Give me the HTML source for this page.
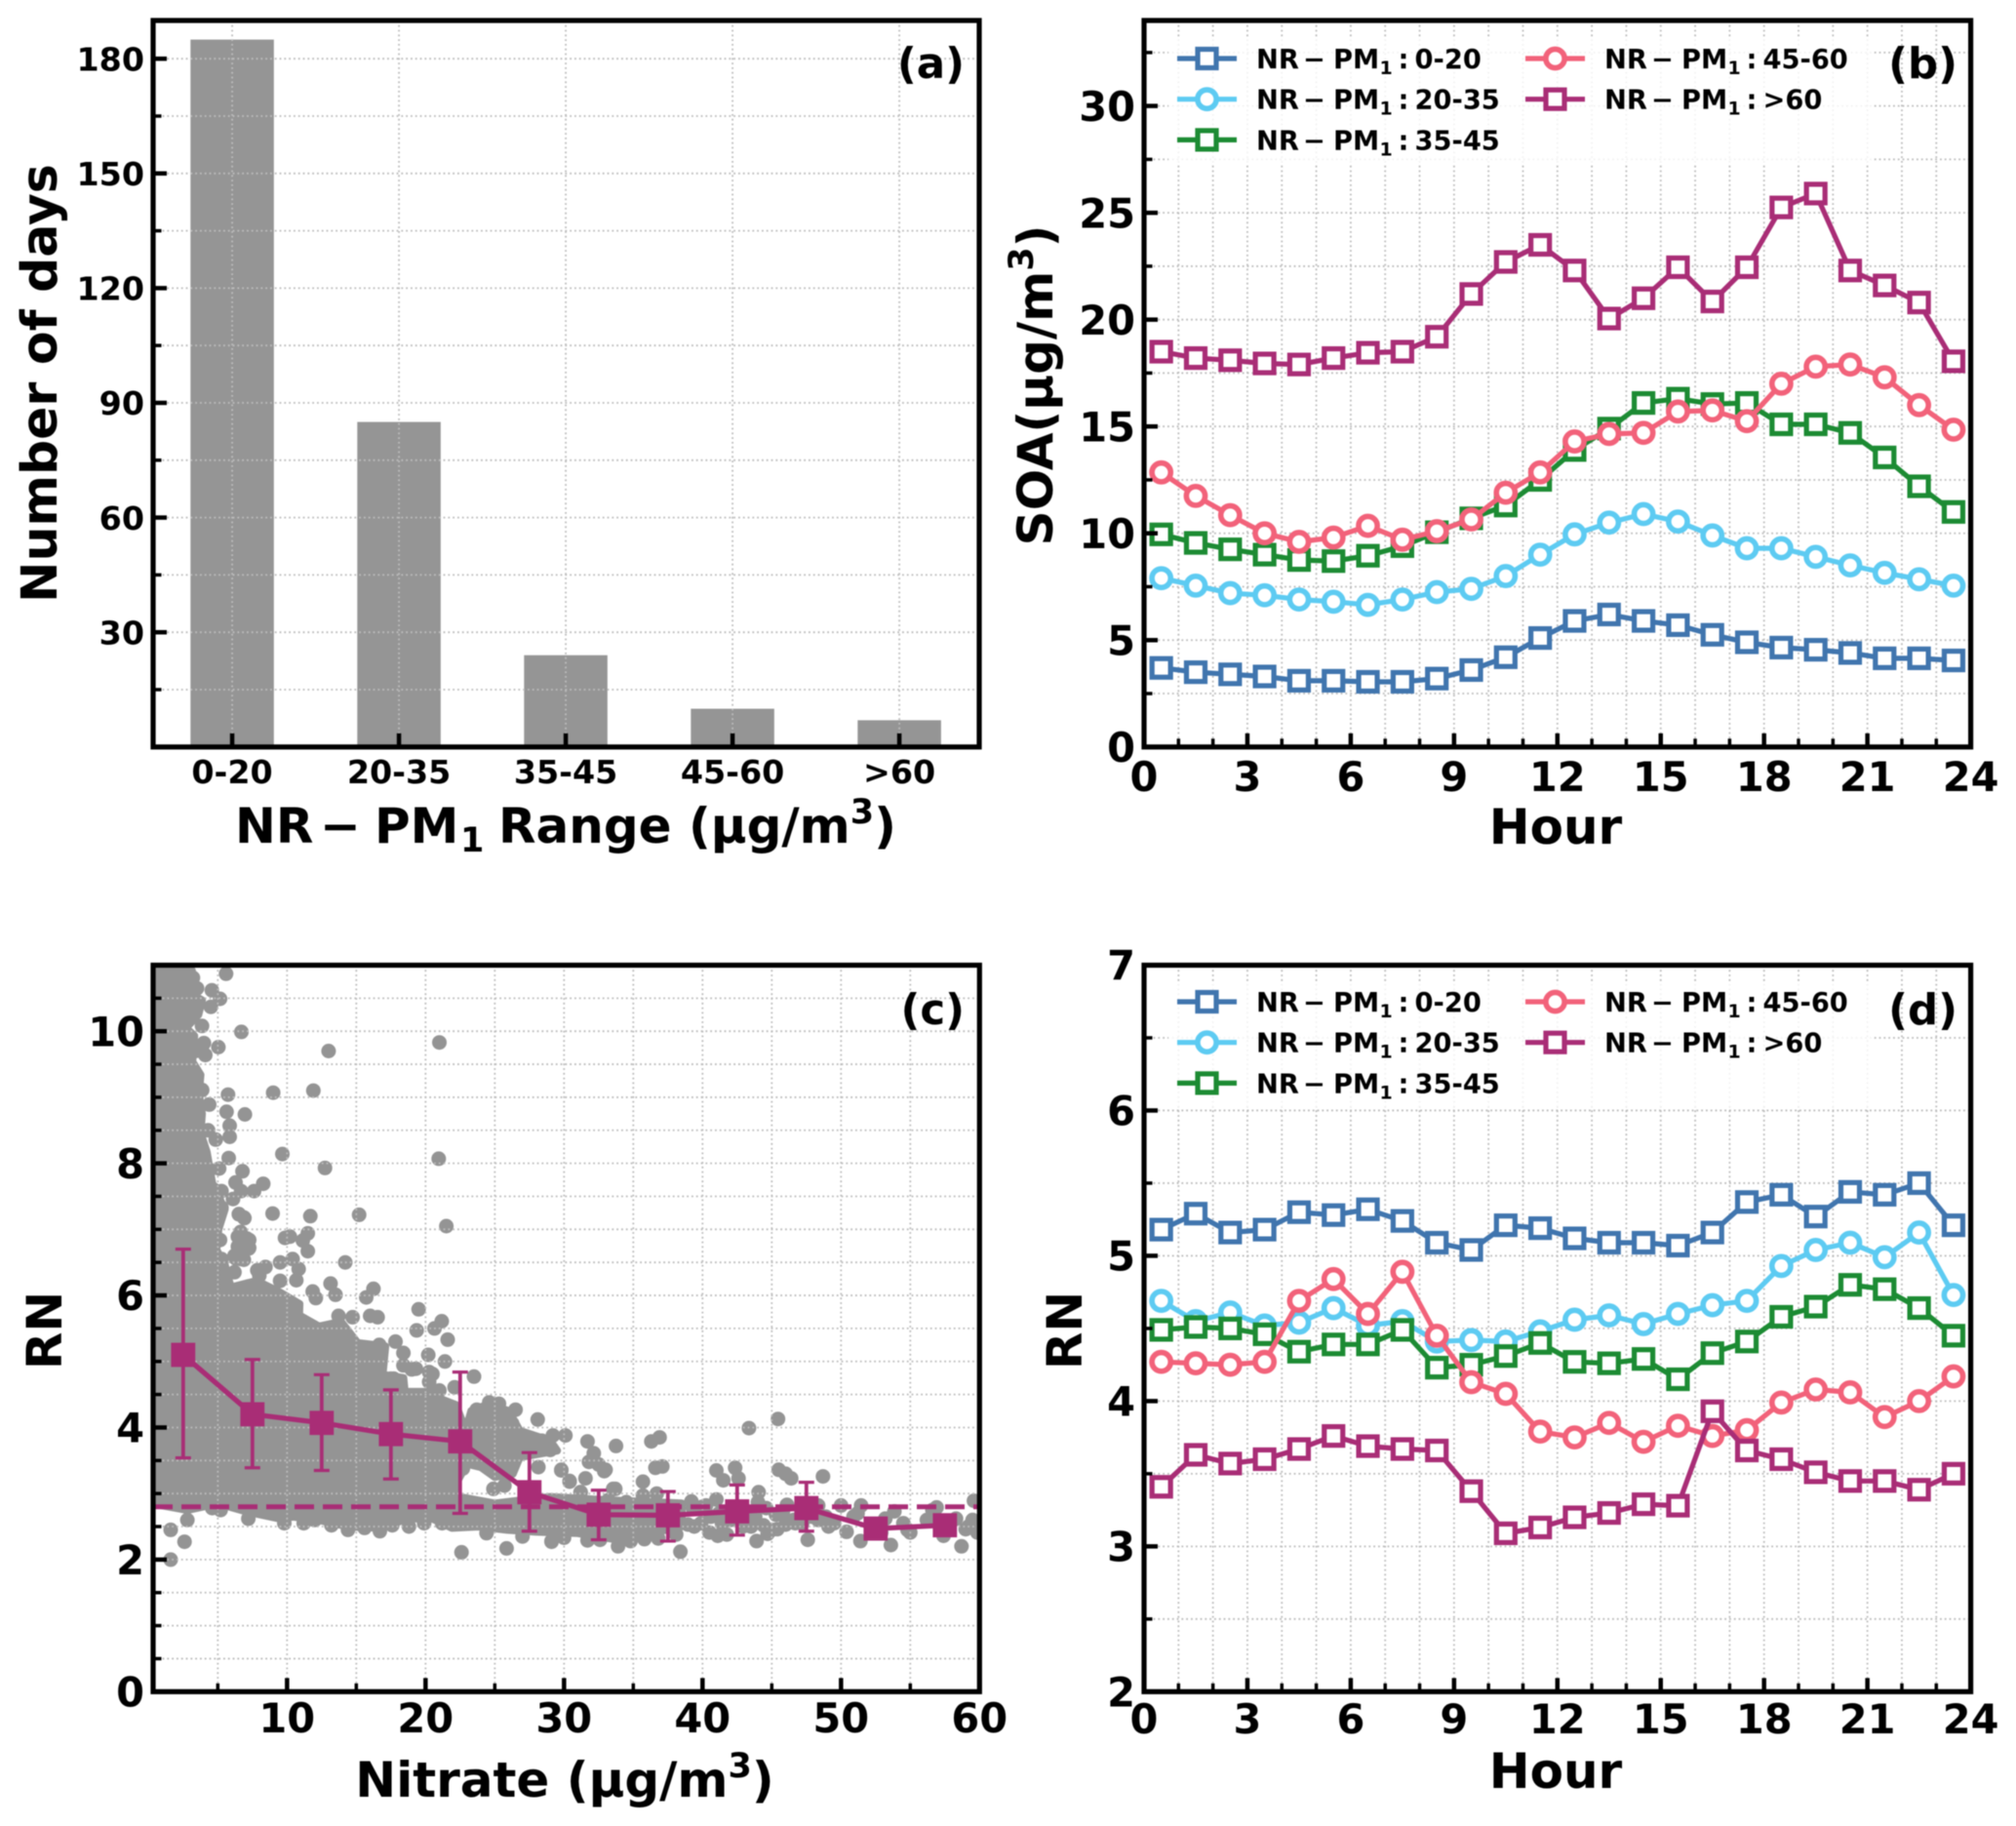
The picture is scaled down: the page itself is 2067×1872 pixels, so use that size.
<!DOCTYPE html>
<html>
<head>
<meta charset="utf-8">
<title>NR-PM1 SOA and RN panels</title>
<style>
html,body{margin:0;padding:0;background:#fff;}
svg{display:block;filter:blur(0.45px);}
text{font-family:"DejaVu Sans","Liberation Sans",sans-serif;font-weight:bold;fill:#000;}
</style>
</head>
<body>
<svg id="figure" xmlns="http://www.w3.org/2000/svg" width="2067" height="1872" viewBox="0 0 2067 1872">
<defs>
<clipPath id="clip-c"><rect x="157" y="989.5" width="847" height="744.8"/></clipPath>
</defs>
<rect x="0" y="0" width="2067" height="1872" fill="#fff"/>
<g id="base-layer"></g>
<g id="grid-layer"></g>
<g id="mark-layer"></g>
<g id="frame-layer"></g>

<text font-size="50.5" text-anchor="middle" transform="translate(58,393) rotate(-90)">Number of days</text>
<text font-size="50" y="864"><tspan x="241">NR</tspan><tspan x="328">−</tspan><tspan x="384">PM</tspan><tspan x="472" dy="9" font-size="35">1</tspan><tspan x="511" dy="-9">Range (µg/m</tspan><tspan dy="-20" font-size="35">3</tspan><tspan dy="20">)</tspan></text>
<text font-size="50" text-anchor="middle" transform="translate(1079,395) rotate(-90)">SOA(µg/m<tspan dy="-20" font-size="35">3</tspan><tspan dy="20">)</tspan></text>
<text font-size="50" text-anchor="middle" x="1595" y="865">Hour</text>
<text font-size="50" text-anchor="middle" transform="translate(63,1364) rotate(-90)">RN</text>
<text font-size="50" text-anchor="middle" x="579" y="1842">Nitrate (µg/m<tspan dy="-20" font-size="35">3</tspan><tspan dy="20">)</tspan></text>
<text font-size="50" text-anchor="middle" transform="translate(1109,1364) rotate(-90)">RN</text>
<text font-size="50" text-anchor="middle" x="1595" y="1833">Hour</text>
<text font-size="43.5" text-anchor="end" x="989" y="80">(a)</text>
<text font-size="43.5" text-anchor="end" x="2007" y="80">(b)</text>
<text font-size="43.5" text-anchor="end" x="989" y="1050">(c)</text>
<text font-size="43.5" text-anchor="end" x="2007" y="1050">(d)</text>
</svg>
<script>
// ---------- Panel (a) data ----------
const rangeCategories = ["0-20", "20-35", "35-45", "45-60", ">60"];
const dayCounts = [185, 85, 24, 10, 7];
const daysMajorTicks = [30, 60, 90, 120, 150, 180];
const daysMinorTicks = [15, 45, 75, 105, 135, 165];

// ---------- Panels (b), (d) shared ----------
const hours = [0.5,1.5,2.5,3.5,4.5,5.5,6.5,7.5,8.5,9.5,10.5,11.5,12.5,13.5,14.5,15.5,16.5,17.5,18.5,19.5,20.5,21.5,22.5,23.5];
const hourMajorTicks = [0,3,6,9,12,15,18,21,24];
const hourMinorTicks = [1,2,4,5,7,8,10,11,13,14,16,17,19,20,22,23];
const seriesNames = ["0-20", "20-35", "35-45", "45-60", ">60"];
const seriesKeys = ["0-20", "20-35", "35-45", "45-60", "gt60"];
const seriesColors = ["#4075AE", "#5DCBF2", "#1C8B33", "#F2627A", "#A92D76"];
const seriesMarkers = ["square", "circle", "square", "circle", "square"];

// ---------- Panel (b) data ----------
const soa0to20 = [3.7,3.5,3.4,3.3,3.1,3.1,3.05,3.05,3.2,3.6,4.2,5.1,5.9,6.2,5.9,5.7,5.25,4.9,4.65,4.55,4.4,4.15,4.15,4.05];
const soa20to35 = [7.9,7.55,7.2,7.1,6.9,6.8,6.65,6.9,7.25,7.4,8.0,9.0,9.95,10.5,10.9,10.55,9.9,9.3,9.3,8.9,8.5,8.15,7.85,7.55];
const soa35to45 = [9.95,9.55,9.25,9.0,8.75,8.7,8.95,9.4,10.05,10.7,11.3,12.5,13.9,14.9,16.1,16.3,16.05,16.1,15.1,15.1,14.7,13.55,12.2,11.0];
const soa45to60 = [12.85,11.75,10.85,10.0,9.6,9.8,10.35,9.7,10.1,10.65,11.9,12.85,14.3,14.65,14.7,15.7,15.75,15.25,17.0,17.8,17.9,17.3,16.0,14.85];
const soaOver60 = [18.5,18.2,18.1,17.95,17.9,18.2,18.45,18.5,19.2,21.2,22.7,23.5,22.3,20.05,21.0,22.45,20.85,22.45,25.25,25.9,22.3,21.6,20.8,18.05];
const soaMajorTicks = [0,5,10,15,20,25,30];
const soaMinorTicks = [2.5,7.5,12.5,17.5,22.5,27.5,32.5];

// ---------- Panel (d) data ----------
const rn0to20 = [5.18,5.29,5.16,5.18,5.30,5.28,5.32,5.24,5.09,5.04,5.21,5.19,5.12,5.09,5.09,5.07,5.16,5.37,5.42,5.27,5.44,5.42,5.50,5.21];
const rn20to35 = [4.69,4.55,4.61,4.52,4.54,4.64,4.52,4.55,4.41,4.42,4.41,4.48,4.56,4.59,4.53,4.60,4.66,4.69,4.93,5.04,5.09,4.99,5.16,4.73];
const rn35to45 = [4.49,4.51,4.50,4.46,4.34,4.39,4.39,4.49,4.23,4.25,4.31,4.40,4.27,4.26,4.29,4.15,4.33,4.41,4.58,4.65,4.80,4.77,4.64,4.45];
const rn45to60 = [4.27,4.26,4.25,4.27,4.69,4.84,4.60,4.89,4.45,4.13,4.05,3.79,3.75,3.85,3.72,3.83,3.76,3.80,3.99,4.08,4.06,3.89,4.00,4.17];
const rnOver60 = [3.41,3.63,3.57,3.60,3.67,3.76,3.69,3.67,3.66,3.38,3.09,3.13,3.20,3.23,3.29,3.28,3.93,3.66,3.60,3.51,3.45,3.45,3.39,3.50];
const rnMajorTicks = [2,3,4,5,6,7];
const rnMinorTicks = [2.5,3.5,4.5,5.5,6.5];

// ---------- Panel (c) data ----------
const nitrateBins = [2.5,7.5,12.5,17.5,22.5,27.5,32.5,37.5,42.5,47.5,52.5,57.5];
const binMeanRN = [5.1,4.2,4.07,3.9,3.79,3.02,2.68,2.67,2.73,2.78,2.47,2.52];
const binUpperRN = [6.7,5.03,4.8,4.57,4.84,3.62,3.05,3.03,3.13,3.17,2.47,2.52];
const binLowerRN = [3.54,3.39,3.35,3.22,2.7,2.43,2.3,2.28,2.37,2.43,2.47,2.52];
const referenceRN = 2.8;
const nitrateMajorTicks = [10,20,30,40,50,60];
const nitrateMinorTicks = [5,15,25,35,45,55];
const scatterRNMajorTicks = [0,2,4,6,8,10];
const scatterRNMinorTicks = [0.5,1,1.5,2.5,3,3.5,4.5,5,5.5,6.5,7,7.5,8.5,9,9.5,10.5];
// Outline of the saturated part of the cloud, where single points cannot be told apart.
const cloudEdgeNitrate = [0.2,2.3,2.8,3.86,3.6,2.7,3.3,3.16,3.75,3.63,3.86,3.75,4.2,4.6,5.5,5.05,4.9,5.5,5.94,7.8,9.46,10.9,10.87,12.3,13.9,15.1,17.1,16.9,18.4,18.5,20.5,21,22.2,22.9,23.3,24.5,26,26.8,29,29.5,26.8,26.3,25,24,23,22.2,22.4,25,29,33,38.5,38.5,35.8,33.9,31,28,25.9,23.8,21.9,20.5,18.7,16.7,14.4,12.3,10.44,9.5,7.2,5,2.8,0.2];
const cloudEdgeRN = [11.1,11.1,10.6,10.47,10.25,10.05,9.93,9.54,9.34,9.05,8.75,8.46,8.17,7.7,7.3,7.0,6.69,6.47,6.12,6.22,6.05,5.87,5.7,5.53,5.6,5.28,5.23,4.8,4.75,4.54,4.54,4.44,4.34,3.95,4.25,4.35,4.25,3.95,3.8,3.65,3.55,3.3,3.25,3.4,3.45,3.15,2.95,2.85,2.95,2.9,2.85,2.5,2.38,2.3,2.4,2.42,2.45,2.5,2.48,2.62,2.62,2.48,2.5,2.6,2.65,2.62,2.72,2.85,2.75,2.85];
// Individually visible points.
const scatterNitrate = [3.2,2.7,5.6,4.57,5.16,4.5,3.86,6.7,13,21,4,5.04,4.1,9,11.9,5.74,3.87,4.38,5.63,6.96,5.86,5.86,4.85,9.66,5.79,20.95,12.74,5.1,6.78,8.28,7.62,6.28,6.68,5.27,6.1,5.27,6.52,6.92,8.96,11.68,15.2,21.5,5.16,6.45,7.27,6.45,7.27,6.68,9.85,10.2,11.5,11.14,11.5,14.2,5.27,8.44,7.85,6.2,9.5,10.4,10.84,9.5,10.67,13.14,13.5,11.85,12.08,16.24,15.72,19.5,13.72,14.73,16,16.54,19.36,20.65,21.17,21.6,17.83,16.66,
 18.4,20.2,21.4,19,17.5,20.5,21,22.1,23.5,28.1,30.1,29.2,31.7,33.75,36.3,36.9,32.15,31.8,33,33.55,35.7,35.7,36.7,36.6,37.1,34.5,26.5,25.3,24.6,23.7,26.25,28.4,29,29.8,28.15,30.4,31.55,31.2,33.7,32.5,32.9,22.7,24.9,25.7,29.8,30.4,31.2,
 33.2,39.2,40.25,41,41,41.5,42.35,42.6,44.05,44,43.35,45.45,45.5,46,46.4,48.7,46.1,48.35,50,51.45,56.9,56.6,59.6,53.85,50.9,54.5,56.2,59.5,59,59.85,55,50.4,52.9,49.1,48.35,47.6,51.4,53.6,57.4,58.7,43.9,44.7,45.4,46,45.3,43.2,41.75,41.1,40.5,39.4,38.95,38.4,38.1,35.8,33.9,29.1,31.7,30,
 39.9,40.6,41.4,42.2,42.9,43.8,44.6,45.8,46.6,47.2,47.9,48.9,49.5,51.2,53.2,54.8,57.9,58.3,59.2,37.6,39.3,40,41.2,42,43.5,46.7,45,44.4,
 1.6,2.6,1.6,2.8,7.2,9.8,12,14.4,16.7,18.8,19.9,22.6,25.85,29.1,4.6,5.2,11.2,13.2,15.6,17.6,21.2,24.4,27,32.6,34.8,36.8,
 6.65,7.1,6.53,7.23,6.3,6.88,17.7,18.4,19.3,20.26,20.26,6.53,6.88,8.0,6.2,4.3,4.4,4.7,5.1,2.9,3.1,3.5,3.4];
const scatterRN = [10.81,10.76,10.87,10.62,10.49,10.37,10.08,9.99,9.7,9.83,9.82,9.76,9.64,9.07,9.1,9.04,9.11,8.89,8.78,8.74,8.57,8.4,8.36,8.14,8.08,8.07,7.93,7.92,7.88,7.69,7.58,7.71,7.58,7.58,7.46,7.33,7.23,7.17,7.24,7.2,7.22,7.05,6.84,6.89,6.84,6.74,6.72,6.55,6.87,6.89,6.94,6.83,6.67,6.5,6.55,6.43,6.38,6.35,6.5,6.55,6.4,6.22,6.23,6.18,6.01,6.06,5.96,6.1,5.97,5.79,5.69,5.67,5.69,5.67,5.47,5.5,5.61,5.33,5.3,5.25,
 5.13,5.1,5,4.88,4.74,4.81,4.56,4.61,4.77,4.12,3.88,3.88,3.79,3.72,3.79,3.85,3.61,3.48,3.36,3.07,3.18,2.97,3,3.39,3.41,2.87,4.27,4.36,4.38,4.27,4.06,3.8,3.66,3.36,3.4,3.18,3.23,3.02,3.07,3.44,3.34,3.38,3.07,3.12,3.35,3.19,3.02,
 2.9,2.88,2.82,2.91,3.35,3.2,3.39,3.23,3.02,2.87,3.99,4.13,3.36,3.3,3.23,3.26,2.83,2.82,2.82,2.82,2.79,2.75,2.89,2.73,2.65,2.55,2.6,2.6,2.46,2.41,2.41,2.42,2.41,2.5,2.6,2.3,2.28,2.22,2.36,2.2,2.28,2.39,2.46,2.53,2.68,2.63,2.38,2.36,2.41,2.5,2.53,2.12,2.38,2.31,2.2,2.28,2.29,2.33,
 2.55,2.65,2.55,2.7,2.5,2.65,2.78,2.72,2.6,2.55,2.65,2.65,2.55,2.7,2.62,2.45,2.55,2.62,2.5,2.72,2.78,2.8,2.7,2.6,2.5,2.55,2.45,2.52,
 2,2.27,2.45,2.6,2.62,2.55,2.6,2.45,2.43,2.5,2.55,2.11,2.17,2.27,2.78,2.75,2.55,2.52,2.48,2.52,2.55,2.4,2.35,2.3,2.28,2.32,
 6.96,6.86,6.76,6.71,6.56,6.54,4.74,4.94,4.89,4.84,4.69,7.23,7.18,6.3,6.6,8.5,7.9,7.6,7.3,10.9,10.6,10.65,9.7];

// ---------- Drawing ----------
const NS = "http://www.w3.org/2000/svg";
const baseLayer = document.getElementById("base-layer");
const gridLayer = document.getElementById("grid-layer");
const markLayer = document.getElementById("mark-layer");
const frameLayer = document.getElementById("frame-layer");

function mk(tag, attrs, parent, name) {
  const el = document.createElementNS(NS, tag);
  for (const k in attrs) el.setAttribute(k, attrs[k]);
  
  
  parent.appendChild(el);
  return el;
}
function linear(d0, d1, r0, r1) {
  return v => r0 + (v - d0) * (r1 - r0) / (d1 - d0);
}
function gridLine(x1, y1, x2, y2, name) {
  mk("line", {x1, y1, x2, y2, stroke:"#bcbcbc", "stroke-width":1.8, "stroke-dasharray":"1.8 3"}, gridLayer, name);
}
function panelAxes(p, sx, sy, o) {
  (o.xGrid || []).forEach(v => gridLine(sx(v), p.top, sx(v), p.bottom, p.id + "-x-grid-line"));
  (o.yGrid || []).forEach(v => gridLine(p.left, sy(v), p.right, sy(v), p.id + "-y-grid-line"));
  const tick = (x1, y1, x2, y2, w, name) => mk("line", {x1, y1, x2, y2, stroke:"#000", "stroke-width":w}, frameLayer, name);
  (o.xMajor || []).forEach(v => { tick(sx(v), p.bottom, sx(v), p.bottom - 14, 4.5, p.id + "-x-major-tick"); });
  (o.xMinor || []).forEach(v => { tick(sx(v), p.bottom, sx(v), p.bottom - 8.5, 3.5, p.id + "-x-minor-tick"); });
  (o.yMajor || []).forEach(v => { tick(p.left, sy(v), p.left + 14, sy(v), 4.5, p.id + "-y-major-tick"); });
  (o.yMinor || []).forEach(v => { tick(p.left, sy(v), p.left + 8.5, sy(v), 3.5, p.id + "-y-minor-tick"); });
  mk("rect", {x:p.left, y:p.top, width:p.right - p.left, height:p.bottom - p.top, fill:"none", stroke:"#000", "stroke-width":5.2}, frameLayer, p.id + "-frame");
  (o.xLabels || []).forEach((lab, i) => {
    const t = mk("text", {x:sx(o.xLabelPos[i]), y:o.xBase, "font-size":o.fs, "text-anchor":"middle"}, frameLayer, p.id + "-x-tick-label");
    t.textContent = lab;
  });
  (o.yLabels || []).forEach((lab, i) => {
    const t = mk("text", {x:p.left - 9, y:sy(o.yLabelPos[i]) + o.fs * 0.365, "font-size":o.fs, "text-anchor":"end"}, frameLayer, p.id + "-y-tick-label");
    t.textContent = lab;
  });
}
function drawMarker(parent, kind, x, y, color, name) {
  if (kind === "square") {
    mk("rect", {x:x - 9.5, y:y - 9.5, width:19, height:19, fill:"#fff", stroke:color, "stroke-width":5.2}, parent, name);
  } else {
    mk("circle", {cx:x, cy:y, r:9.6, fill:"#fff", stroke:color, "stroke-width":5.6}, parent, name);
  }
}
function drawLegend(p, rowY) {
  const columns = [0, 0, 0, 357, 357];
  const rows = [0, 1, 2, 0, 1];
  const rowStep = 41.7;
  mk("rect", {x:p.left + 25, y:rowY - 20, width:722, height:128, fill:"#fff", "fill-opacity":0.82}, gridLayer, p.id + "-legend-background");
  seriesNames.forEach((nm, i) => {
    const g = mk("g", {}, frameLayer, p.id + "-legend-entry-" + seriesKeys[i]);
    const ox = p.left + 34 + columns[i];
    const y = rowY + rows[i] * rowStep;
    mk("line", {x1:ox, x2:ox + 61, y1:y, y2:y, stroke:seriesColors[i], "stroke-width":5.2}, g, "legend-line");
    drawMarker(g, seriesMarkers[i], ox + 30.5, y, seriesColors[i], "legend-marker");
    const t = mk("text", {x:ox + 81, y:y + 10, "font-size":27.3}, g, "legend-label");
    t.innerHTML = '<tspan x="' + (ox + 81) + '">NR</tspan><tspan x="' + (ox + 129) + '">−</tspan><tspan x="' + (ox + 160) + '">PM</tspan><tspan x="' + (ox + 207.5) + '" dy="6" font-size="19">1</tspan><tspan x="' + (ox + 226.5) + '" dy="-6">:</tspan><tspan x="' + (ox + 243.5) + '"></tspan>';
    t.lastChild.textContent = nm;
  });
}
function drawHourPanel(p, sy, seriesList, o) {
  const sx = linear(0, 24, p.left, p.right);
  panelAxes(p, sx, sy, {
    xGrid: hourMajorTicks.concat(hourMinorTicks), yGrid: o.major.concat(o.minor),
    xMajor: hourMajorTicks, xMinor: hourMinorTicks, yMajor: o.major, yMinor: o.minor,
    xLabels: hourMajorTicks.map(String), xLabelPos: hourMajorTicks, xBase: o.xBase,
    yLabels: o.major.map(String), yLabelPos: o.major, fs: 41.5
  });
  seriesList.forEach((vals, i) => {
    const g = mk("g", {}, markLayer, p.id + "-series-" + seriesKeys[i]);
    const pts = vals.map((v, j) => sx(hours[j]).toFixed(1) + "," + sy(v).toFixed(1)).join(" ");
    mk("polyline", {points:pts, fill:"none", stroke:seriesColors[i], "stroke-width":5.2, "stroke-linejoin":"round"}, g, "series-line");
    vals.forEach((v, j) => drawMarker(g, seriesMarkers[i], sx(hours[j]), sy(v), seriesColors[i], "series-point"));
  });
  drawLegend(p, o.legendY);
}

// Panel (a)
(function () {
  const p = {id:"panel-a", left:157, right:1004, top:21, bottom:765.8};
  const sx = linear(-0.474, 4.479, p.left, p.right);
  const sy = linear(0, 190, p.bottom, p.top);
  const cats = rangeCategories.map((c, i) => i);
  panelAxes(p, sx, sy, {
    xGrid: cats, yGrid: daysMajorTicks.concat(daysMinorTicks),
    xMajor: cats, yMajor: daysMajorTicks, yMinor: daysMinorTicks,
    xLabels: rangeCategories, xLabelPos: cats, xBase: 803,
    yLabels: daysMajorTicks.map(String), yLabelPos: daysMajorTicks, fs: 33.3
  });
  dayCounts.forEach((v, i) => {
    const x0 = sx(i - 0.25), x1 = sx(i + 0.25);
    mk("rect", {x:x0, y:sy(v), width:x1 - x0, height:p.bottom - sy(v), fill:"#959595"}, baseLayer, "bar-" + seriesKeys[i]);
  });
})();

// Panel (b)
drawHourPanel({id:"panel-b", left:1173, right:2020.6, top:21, bottom:765.8},
  linear(0, 34, 765.8, 21),
  [soa0to20, soa20to35, soa35to45, soa45to60, soaOver60],
  {major: soaMajorTicks, minor: soaMinorTicks, xBase: 811, legendY: 60});

// Panel (d)
drawHourPanel({id:"panel-d", left:1173, right:2020.6, top:989.5, bottom:1734.3},
  linear(2, 7, 1734.3, 989.5),
  [rn0to20, rn20to35, rn35to45, rn45to60, rnOver60],
  {major: rnMajorTicks, minor: rnMinorTicks, xBase: 1777, legendY: 1027});

// Panel (c)
(function () {
  const p = {id:"panel-c", left:157, right:1004.3, top:989.5, bottom:1734.3};
  const sx = linear(0.33, 60, p.left, p.right);
  const sy = linear(0, 11, p.bottom, p.top);
  const color = "#A92D76";
  panelAxes(p, sx, sy, {
    xGrid: nitrateMajorTicks.concat(nitrateMinorTicks), yGrid: scatterRNMajorTicks.concat(scatterRNMinorTicks),
    xMajor: nitrateMajorTicks, xMinor: nitrateMinorTicks, yMajor: scatterRNMajorTicks, yMinor: scatterRNMinorTicks,
    xLabels: nitrateMajorTicks.map(String), xLabelPos: nitrateMajorTicks, xBase: 1776,
    yLabels: scatterRNMajorTicks.map(String), yLabelPos: scatterRNMajorTicks, fs: 41.5
  });
  const cloud = mk("g", {"clip-path":"url(#clip-c)"}, baseLayer, "scatter-cloud");
  const edge = cloudEdgeNitrate.map((v, i) => sx(v).toFixed(1) + "," + sy(cloudEdgeRN[i]).toFixed(1)).join(" ");
  mk("polygon", {points:edge, fill:"#949494", stroke:"#949494", "stroke-width":8, "stroke-linejoin":"round"}, cloud, "scatter-dense-region");
  scatterNitrate.forEach((v, i) => {
    mk("circle", {cx:sx(v).toFixed(1), cy:sy(scatterRN[i]).toFixed(1), r:7.5, fill:"#949494"}, cloud, "scatter-point");
  });
  mk("line", {x1:p.left, x2:p.right, y1:sy(referenceRN), y2:sy(referenceRN), stroke:color, "stroke-width":5, "stroke-dasharray":"20 9"}, markLayer, "reference-dashed-line");
  nitrateBins.forEach((v, i) => {
    if (binUpperRN[i] === binLowerRN[i]) return;
    const g = mk("g", {}, markLayer, "error-bar");
    mk("line", {x1:sx(v), x2:sx(v), y1:sy(binUpperRN[i]), y2:sy(binLowerRN[i]), stroke:color, "stroke-width":3.8}, g, "error-bar-stem");
    mk("line", {x1:sx(v) - 8, x2:sx(v) + 8, y1:sy(binUpperRN[i]), y2:sy(binUpperRN[i]), stroke:color, "stroke-width":3.2}, g, "error-bar-upper-cap");
    mk("line", {x1:sx(v) - 8, x2:sx(v) + 8, y1:sy(binLowerRN[i]), y2:sy(binLowerRN[i]), stroke:color, "stroke-width":3.2}, g, "error-bar-lower-cap");
  });
  const meanPts = nitrateBins.map((v, i) => sx(v).toFixed(1) + "," + sy(binMeanRN[i]).toFixed(1)).join(" ");
  mk("polyline", {points:meanPts, fill:"none", stroke:color, "stroke-width":5.2}, markLayer, "bin-mean-line");
  nitrateBins.forEach((v, i) => {
    mk("rect", {x:sx(v) - 12.4, y:sy(binMeanRN[i]) - 12.4, width:24.8, height:24.8, fill:color}, markLayer, "bin-mean-marker");
  });
})();
</script>
</body>
</html>
